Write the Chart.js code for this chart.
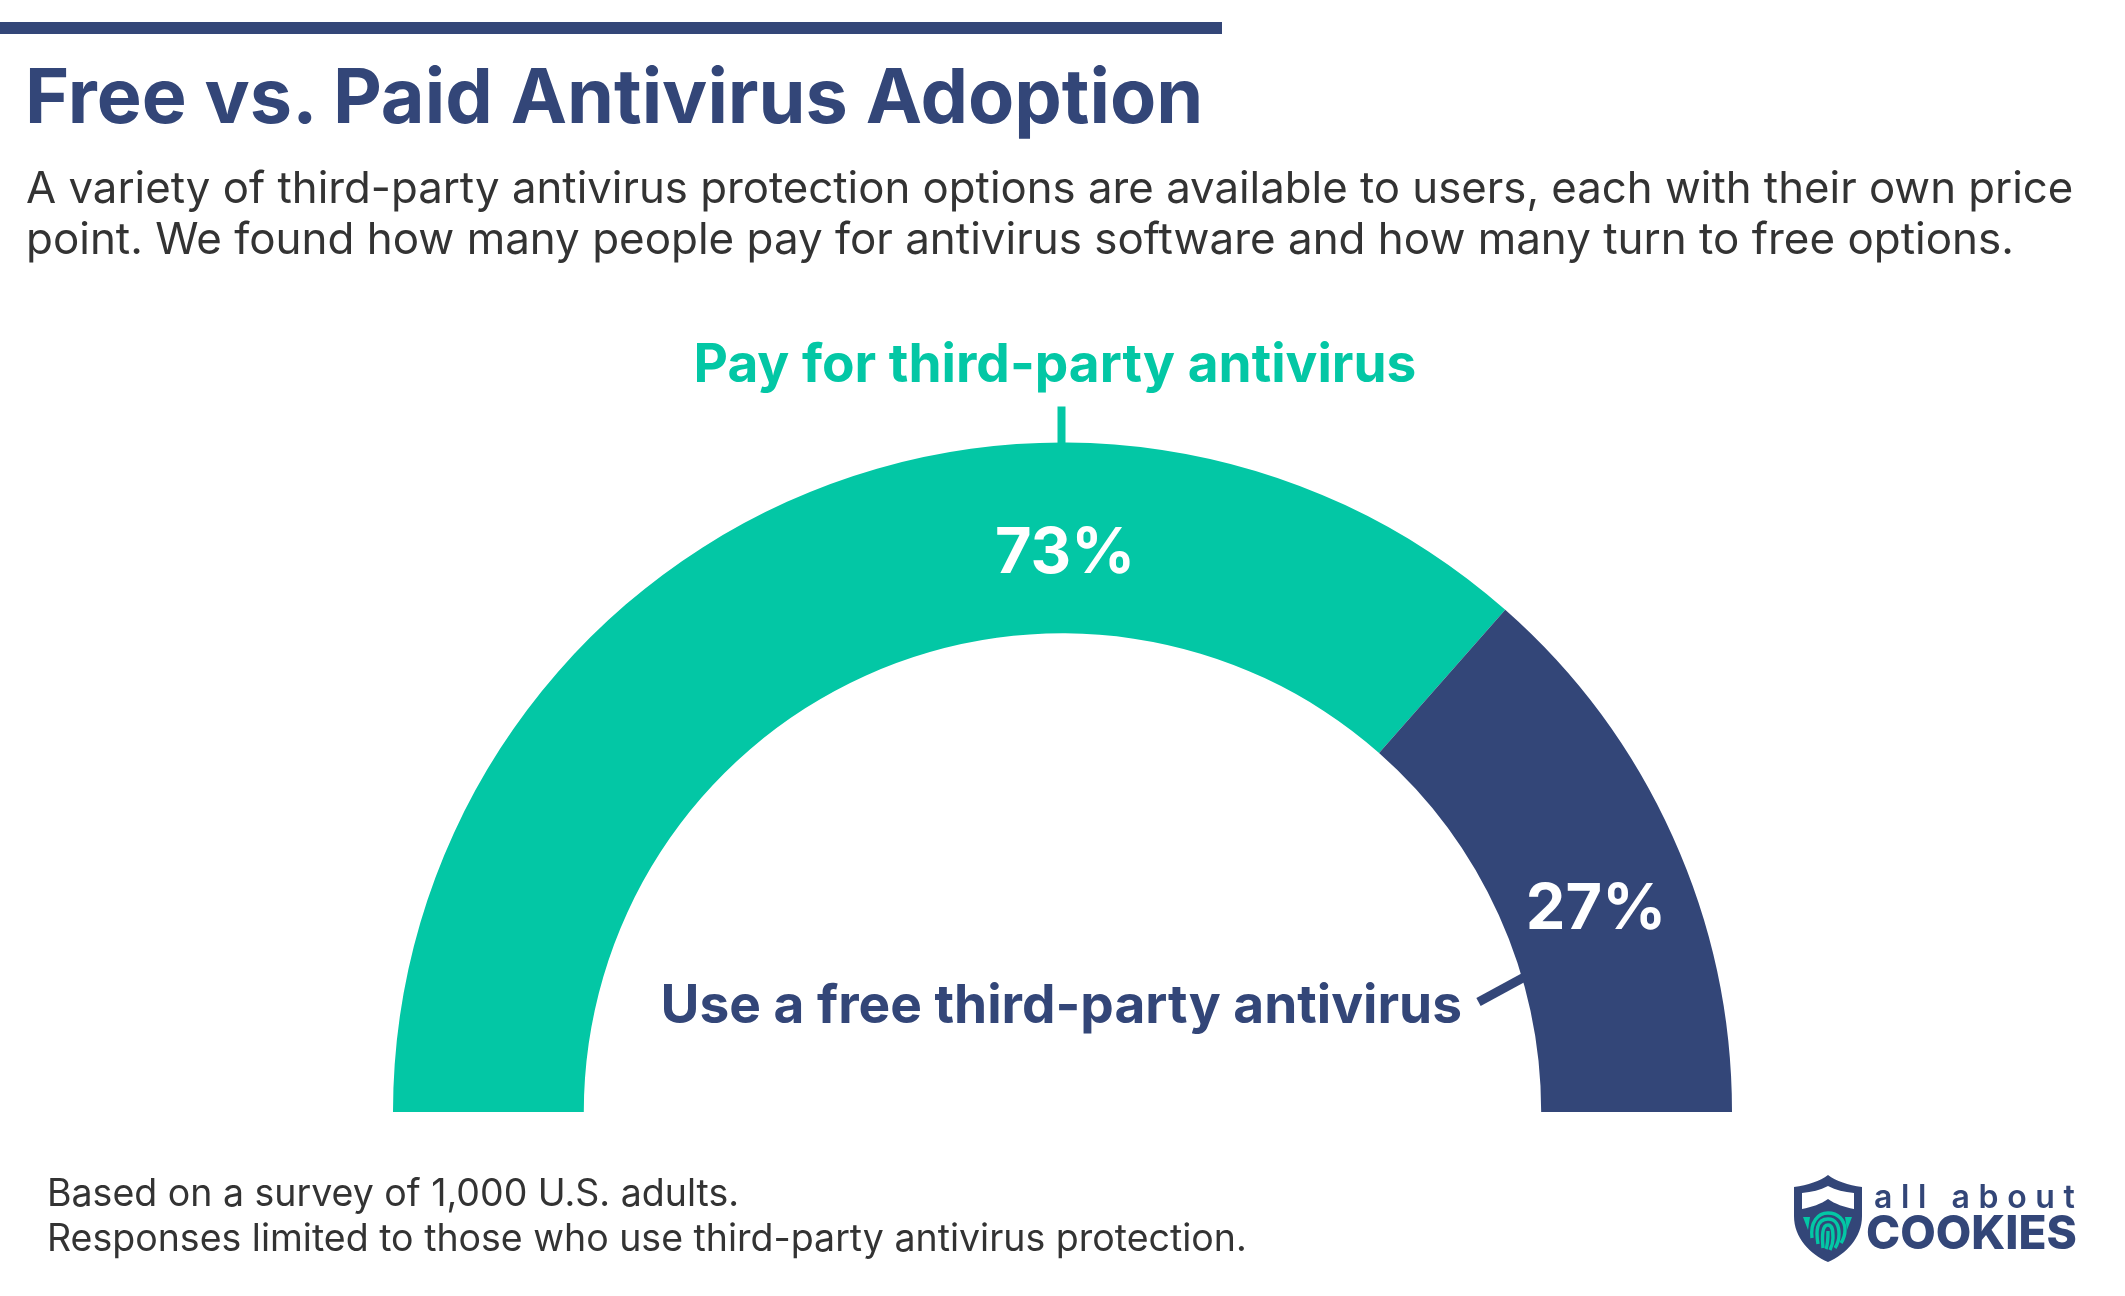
<!DOCTYPE html>
<html>
<head>
<meta charset="utf-8">
<title>Free vs. Paid Antivirus Adoption</title>
<script src="https://cdn.jsdelivr.net/npm/chart.js@4"></script>
<style>
  html, body { margin: 0; padding: 0; background: #fff; }
  #page { position: relative; width: 2125px; height: 1296px; overflow: hidden; font-family: Inter, sans-serif; }
  #page canvas { position: absolute; left: 0; top: 0; }
  #bar { position: absolute; left: 0; top: 22px; width: 1222px; height: 12px; background: #334678; }
  .txt { position: absolute; white-space: nowrap; }
  #title { left: 25px; top: 51px; font-size: 75.5px; line-height: 90px; font-weight: 700; color: #334678; }
  .sub { left: 26px; line-height: 50px; color: #333; }
  .note { left: 47px; font-size: 37.5px; line-height: 44px; color: #333; }
  #logo { position: absolute; left: 1790px; top: 1170px; }
  #logo1 { left: 1874px; top: 1177px; font-size: 32px; line-height: 40px; font-weight: 600; letter-spacing: 8.6px; color: #334678; }
  #logo2 { left: 1866px; top: 1197px; font-size: 46px; line-height: 70px; font-weight: 800; color: #334678; }
</style>
</head>
<body>
<div id="page">
  <canvas id="gauge" width="2125" height="1296"></canvas>
  <div id="bar"></div>
  <div class="txt" id="title">Free vs. Paid Antivirus Adoption</div>
  <div class="txt sub" style="top:163px;font-size:43.75px">A variety of third-party antivirus protection options are available to users, each with their own price</div>
  <div class="txt sub" style="top:213px;font-size:43.95px">point. We found how many people pay for antivirus software and how many turn to free options.</div>
  <div class="txt note" style="top:1171px">Based on a survey of 1,000 U.S. adults.</div>
  <div class="txt note" style="top:1216px">Responses limited to those who use third-party antivirus protection.</div>
  <svg id="logo" width="76" height="96" viewBox="0 0 76 96">
    <path d="M38 5 C30 11 18 15 4 17 L4 46 C4 68 20 84 38 92 C56 84 72 68 72 46 L72 17 C58 15 46 11 38 5 Z" fill="#334678"/>
    <path d="M38 16 C30 20 22 22 12 23 L12 39 C22 37 31 34 38 29 C45 34 54 37 64 39 L64 23 C54 22 46 20 38 16 Z" fill="#fff"/>
    <path d="M13 47 L20 47 L18 60 Z M62 47 L55 47 L57 60 Z" fill="#03c7a5"/>
    <g fill="none" stroke="#03c7a5" stroke-width="3.4">
      <path d="M22 68 C20 52 28 43 38 43 C48 43 55 50 55 60 C55 66 53 70 51 73"/>
      <path d="M28 74 C26 62 26 49 38 49 C46 49 49 56 49 64 C49 70 47 75 45 78"/>
      <path d="M33 78 C32 66 32 55 38 55 C43 55 43 62 43 68 C43 72 42 76 40 80"/>
      <path d="M38 61 C38 68 38 74 36 79"/>
    </g>
  </svg>
  <div class="txt" id="logo1">all about</div>
  <div class="txt" id="logo2">COOKIES</div>
</div>
<script>
var categories = ['Pay for third-party antivirus', 'Use a free third-party antivirus'];
var shares = [73, 27];
var shareLabels = ['73%', '27%'];
var sliceColors = ['#03c7a5', '#334678'];

// callouts and percent labels, placed relative to the gauge centre
var gaugeLabels = {
  id: 'gaugeLabels',
  afterDraw: function (chart) {
    var arc = chart.getDatasetMeta(0).data[0];
    var cx = arc.x, cy = arc.y, R = arc.outerRadius;
    var c = chart.ctx;
    c.save();
    c.textBaseline = 'alphabetic';

    c.fillStyle = '#fff';
    c.textAlign = 'center';
    c.font = '700 63px Inter';
    c.fillText(shareLabels[0], cx + 2.5, cy - 539);
    c.fillText(shareLabels[1], cx + 533.5, cy - 183);

    c.font = '700 53.2px Inter';
    c.fillStyle = sliceColors[0];
    c.fillText(categories[0], cx - 7.5, cy - 730);
    c.fillStyle = sliceColors[1];
    c.textAlign = 'right';
    c.fillText(categories[1], cx + 399.5, cy - 89);

    // leader ticks
    c.lineWidth = 8;
    c.strokeStyle = sliceColors[0];
    c.beginPath();
    c.moveTo(cx - 1, cy - R - 36);
    c.lineTo(cx - 1, cy - R + 1);
    c.stroke();
    c.lineWidth = 9;
    c.strokeStyle = sliceColors[1];
    c.beginPath();
    c.moveTo(cx + 416, cy - 110);
    c.lineTo(cx + 462, cy - 135);
    c.stroke();
    c.restore();
  }
};

new Chart(document.getElementById('gauge').getContext('2d'), {
  type: 'doughnut',
  data: {
    labels: categories,
    datasets: [{
      data: shares,
      backgroundColor: sliceColors,
      borderWidth: 0
    }]
  },
  options: {
    responsive: false,
    devicePixelRatio: 1,
    animation: false,
    rotation: -90,
    circumference: 180,
    cutout: '71.5%',
    layout: { padding: { left: 393, right: 393, top: 442.5, bottom: 184 } },
    plugins: {
      legend: { display: false },
      tooltip: { enabled: false }
    }
  },
  plugins: [gaugeLabels]
});
</script>
</body>
</html>
